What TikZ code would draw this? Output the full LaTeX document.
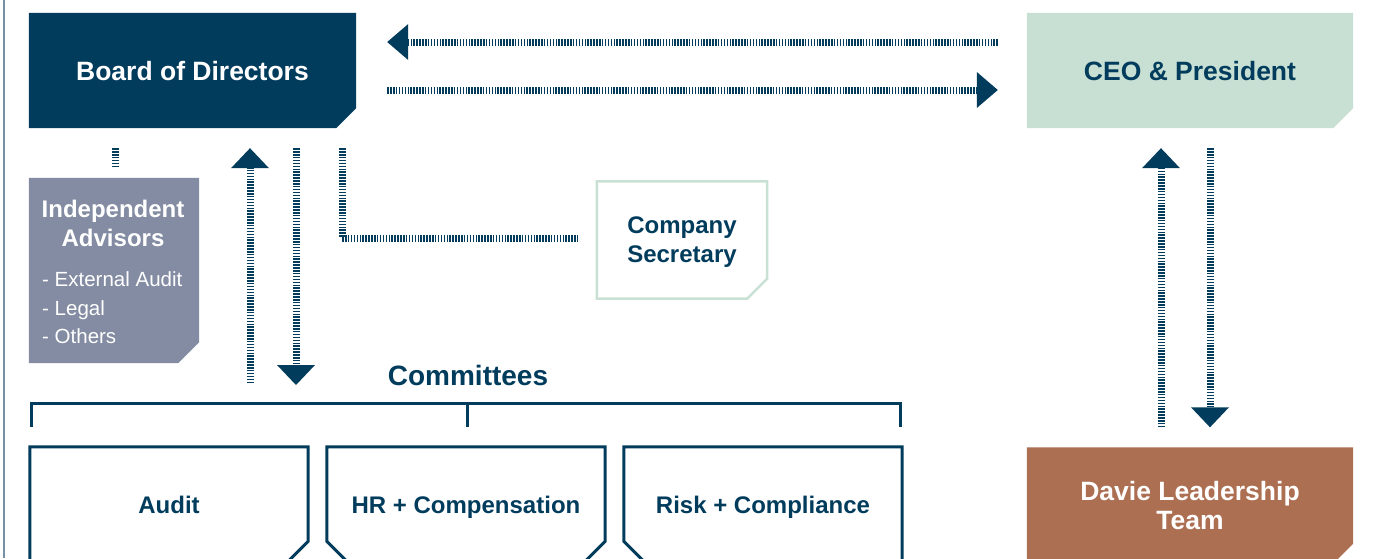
\documentclass[tikz,border=0pt]{standalone}
\usepackage{fontspec}
\setmainfont{Liberation Sans}
\usetikzlibrary{arrows.meta,backgrounds}
\definecolor{navy}{HTML}{023C5D}
\definecolor{mint}{HTML}{C8E0D3}
\definecolor{slate}{HTML}{838CA2}
\definecolor{rust}{HTML}{AD6F52}
\definecolor{mintline}{HTML}{C9E1D4}
\definecolor{edge}{HTML}{7890A4}
\tikzset{
  boxnode/.style 2 args={rectangle, inner sep=0pt, minimum width=#1, minimum height=#2, align=center, text depth=0pt},
  bigtxt/.style={font=\fontsize{26.5}{28.5}\selectfont\bfseries},
  midtxt/.style={font=\fontsize{24}{29}\selectfont\bfseries},
  stripe/.style={navy, line width=7pt, dash pattern=on 1.5pt off 1.4pt},
  tri/.style={-{Triangle[length=20pt,width=38pt,line width=0pt]}},
  trih/.style={-{Triangle[length=21pt,width=36pt,line width=0pt]}},
  combox/.style={draw=navy, line width=3pt},
}
\begin{document}
\begin{tikzpicture}[x=1pt,y=-1pt]
\useasboundingbox (0,0) rectangle (1377,558);
\draw[edge, line width=2.5pt] (4,0) -- (4,558);

% nodes
\node[boxnode={327pt}{115pt}, bigtxt, text=white] (board) at (192.5,70.5) {Board of Directors};
\node[boxnode={326pt}{115pt}, bigtxt, text=navy] (ceo) at (1190,70.5) {CEO \& President};
\node[boxnode={170pt}{185pt}] (indep) at (114,270.5) {};
\node[inner sep=0pt, align=center, text depth=0pt, font=\fontsize{24}{29}\selectfont\bfseries, text=white] (indepT) at (113,223) {Independent\\Advisors};
\node[inner sep=0pt, align=left, text depth=0pt, font=\fontsize{20.5}{28.5}\selectfont, text=white, anchor=west] (indepL) at (42,308) {- External Audit\\- Legal\\- Others};
\node[boxnode={170pt}{117pt}, midtxt, text=navy] (cs) at (682,240) {Company\\Secretary};
\node[boxnode={326pt}{116pt}, bigtxt, text=white] (davie) at (1190,505.5) {Davie Leadership\\Team};
\node[inner sep=0pt, text=navy, font=\fontsize{28}{30}\selectfont\bfseries] (comlbl) at (468,375) {Committees};
\node[boxnode={278pt}{116pt}, midtxt, text=navy] (audit) at (169,505) {Audit};
\node[boxnode={278pt}{116pt}, midtxt, text=navy] (hr) at (466,505) {HR + Compensation};
\node[boxnode={278pt}{116pt}, midtxt, text=navy] (risk) at (763,505) {Risk + Compliance};

% box shapes
\begin{scope}[on background layer]
\fill[white] (0,0) rectangle (1377,558);
\fill[navy] (board.north west) -- (board.north east) -- ([yshift=20pt]board.south east) -- ([xshift=-20pt]board.south east) -- (board.south west) -- cycle;
\fill[mint] (ceo.north west) -- (ceo.north east) -- ([yshift=20pt]ceo.south east) -- ([xshift=-20pt]ceo.south east) -- (ceo.south west) -- cycle;
\fill[slate] (indep.north west) -- (indep.north east) -- ([yshift=21pt]indep.south east) -- ([xshift=-21pt]indep.south east) -- (indep.south west) -- cycle;
\draw[mintline, line width=2.5pt] (cs.north west) -- (cs.north east) -- ([yshift=20pt]cs.south east) -- ([xshift=-20pt]cs.south east) -- (cs.south west) -- cycle;
\fill[rust] (davie.north west) -- (davie.north east) -- ([yshift=20pt]davie.south east) -- ([xshift=-20pt]davie.south east) -- (davie.south west) -- cycle;
\draw[combox] (audit.north west) -- (audit.north east) -- ([yshift=22pt]audit.south east) -- ([xshift=-22pt]audit.south east) -- (audit.south west) -- cycle;
\draw[combox] (hr.north west) -- (hr.north east) -- ([yshift=22pt]hr.south east) -- ([xshift=-22pt]hr.south east) -- ([xshift=22pt]hr.south west) -- ([yshift=22pt]hr.south west) -- cycle;
\draw[combox] (risk.north west) -- (risk.north east) -- (risk.south east) -- ([xshift=22pt]risk.south west) -- ([yshift=22pt]risk.south west) -- cycle;
\end{scope}

% committees bracket
\coordinate (brL) at (31.5,427);
\coordinate (brM) at (467,427);
\coordinate (brR) at (900,427);
\coordinate (brY) at (0,403);
\draw[navy, line width=3pt] (brL) -- (brL |- brY) -- (brR |- brY) -- (brR);
\draw[navy, line width=3pt] (brM |- brY) -- (brM);

% Board <-> CEO
\coordinate (t1) at (0,42);
\coordinate (t2) at (0,90);
\draw[stripe, trih, shorten <=29pt, shorten >=31pt] (t1 -| ceo.west) -- (t1 -| board.east);
\draw[stripe, trih, shorten <=31pt, shorten >=29pt] (t2 -| board.east) -- (t2 -| ceo.west);

% Independent advisors link
\coordinate (ia) at (115,0);
\draw[stripe, shorten <=20pt, shorten >=10pt] (ia |- board.south) -- (ia |- indep.north);

% Board <-> committees
\coordinate (upA) at (250,383);
\coordinate (dnA) at (296,385);
\draw[stripe, tri, shorten >=20pt] (upA) -- (upA |- board.south);
\draw[stripe, tri, shorten <=20pt] (dnA |- board.south) -- (dnA);

% Company secretary link
\coordinate (csx) at (342,238);
\draw[stripe, shorten <=20pt, shorten >=19pt] (csx |- board.south) -- (csx) -- (cs.west |- csx);

% CEO <-> Davie
\coordinate (cu) at (1161,0);
\coordinate (cd) at (1210,0);
\draw[stripe, tri, shorten <=20pt, shorten >=20pt] (cu |- davie.north) -- (cu |- ceo.south);
\draw[stripe, tri, shorten <=20pt, shorten >=20pt] (cd |- ceo.south) -- (cd |- davie.north);
\end{tikzpicture}
\end{document}
